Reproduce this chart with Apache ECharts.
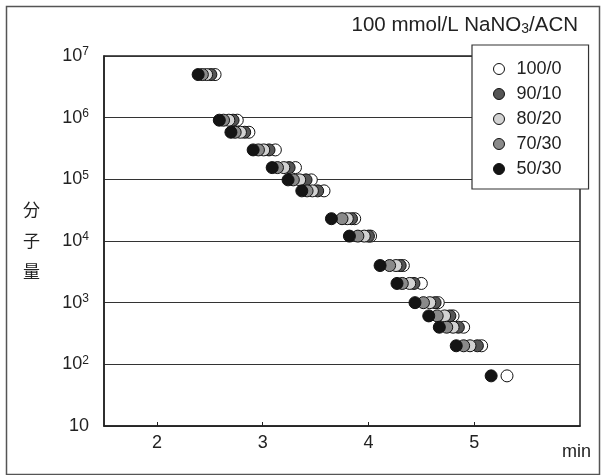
<!DOCTYPE html>
<html>
<head>
<meta charset="utf-8">
<script src="https://cdn.jsdelivr.net/npm/echarts@6/dist/echarts.min.js"></script>
<style>
html,body{margin:0;padding:0;background:#fff;}
#c{width:602px;height:475px;}
</style>
</head>
<body>
<div id="c"></div>
<script>
// Molecular weight of each standard (row)
const molWeights = [5.0e6, 9.1e5, 5.8e5, 3.0e5, 1.55e5, 9.8e4, 6.5e4, 2.3e4, 1.2e4, 4.0e3, 2.05e3, 1.0e3, 6.1e2, 4.0e2, 2.0e2, 65];
// Elution times (min) per eluent composition
const t_100_0 = [2.55, 2.76, 2.87, 3.12, 3.31, 3.46, 3.58, 3.87, 4.02, 4.33, 4.50, 4.66, 4.80, 4.90, 5.07, 5.31];
const t_90_10 = [2.51, 2.72, 2.83, 3.06, 3.25, 3.41, 3.52, 3.84, 4.00, 4.30, 4.43, 4.63, 4.77, 4.85, 5.03, null];
const t_80_20 = [2.47, 2.68, 2.79, 3.01, 3.20, 3.35, 3.47, 3.80, 3.96, 4.26, 4.39, 4.58, 4.72, 4.80, 4.96, null];
const t_70_30 = [2.43, 2.63, 2.74, 2.96, 3.14, 3.29, 3.42, 3.75, 3.90, 4.20, 4.32, 4.52, 4.65, 4.74, 4.90, null];
const t_50_30 = [2.39, 2.59, 2.70, 2.91, 3.09, 3.24, 3.37, 3.65, 3.82, 4.11, 4.27, 4.44, 4.57, 4.67, 4.83, 5.16];
const seriesNames = ['100/0', '90/10', '80/20', '70/30', '50/30'];
const xTicks = [2, 3, 4, 5];

const seriesTimes = [t_100_0, t_90_10, t_80_20, t_70_30, t_50_30];
const fills = ['#ffffff', '#555555', '#d2d2d2', '#8a8a8a', '#141414'];
const FONT = 'Liberation Sans, Arial, Helvetica, sans-serif';

function pairs(times) {
  const out = [];
  times.forEach((t, i) => { if (t !== null) out.push([t, molWeights[i]]); });
  return out;
}

const chart = echarts.init(document.getElementById('c'), null, {renderer: 'canvas'});
chart.setOption({
  animation: false,
  backgroundColor: '#fff',
  textStyle: {fontFamily: FONT},
  title: {
    text: '{n|100 mmol/L NaNO}{s|3}{n|/ACN}',
    right: 19, top: 10,
    textStyle: {
      fontWeight: 'normal',
      rich: {
        n: {fontFamily: FONT, fontSize: 20.5, fontWeight: 'normal', color: '#222'},
        s: {fontFamily: FONT, fontSize: 14, fontWeight: 'normal', color: '#222', verticalAlign: 'bottom', padding: [6, 0, 0, 0]}
      }
    }
  },
  grid: {left: 104, right: 22, top: 56, bottom: 49, show: true, borderColor: '#222', borderWidth: 1.5, backgroundColor: 'transparent'},
  legend: {
    orient: 'vertical',
    left: 472, top: 45,
    padding: [15, 27, 11, 21],
    itemWidth: 25, itemHeight: 11, itemGap: 7,
    backgroundColor: '#fff',
    borderColor: '#333', borderWidth: 1.2, borderRadius: 0,
    z: 10,
    data: seriesNames,
    itemStyle: {borderWidth: 1, borderColor: '#111'},
    textStyle: {fontFamily: FONT, fontSize: 18, color: '#222', lineHeight: 17},
    icon: 'circle'
  },
  xAxis: {
    type: 'value', min: 1.5, max: 6,
    axisLine: {show: true, onZero: false, lineStyle: {color: '#222', width: 1.5}},
    axisTick: {show: true, inside: true, length: 4, customValues: xTicks, lineStyle: {color: '#222'}},
    axisLabel: {customValues: xTicks, fontFamily: FONT, fontSize: 18, color: '#222', margin: 8},
    splitLine: {show: false}
  },
  yAxis: {
    type: 'log', logBase: 10, min: 10, max: 1e7,
    name: '分\n子\n量', nameLocation: 'middle', nameRotate: 0, nameGap: 64,
    nameTextStyle: {fontFamily: 'Noto Sans CJK JP', fontSize: 17, color: '#222', lineHeight: 31},
    axisLine: {show: true, lineStyle: {color: '#222', width: 1.5}},
    axisTick: {show: false},
    axisLabel: {
      margin: 15, color: '#222',
      formatter: function (v) {
        const e = Math.round(Math.log10(v));
        if (e === 1) return '{b|10}';
        return '{b|10}{p|' + e + '}';
      },
      rich: {
        b: {fontFamily: FONT, fontSize: 18, color: '#222'},
        p: {fontFamily: FONT, fontSize: 12, color: '#222', verticalAlign: 'top', padding: [0, 0, 8, 0]}
      }
    },
    splitLine: {show: true, lineStyle: {color: '#333', width: 1.2}}
  },
  graphic: [
    {type: 'rect', left: 4, top: 4, shape: {width: 593, height: 468}, style: {fill: 'none', stroke: '#555', lineWidth: 1.5}, silent: true, z: -1},
    {type: 'text', left: 562, top: 443, style: {text: 'min', font: '18px ' + FONT, fill: '#222'}}
  ],
  series: seriesNames.map((name, i) => ({
    name: name,
    type: 'scatter',
    symbol: 'circle',
    symbolSize: 12,
    itemStyle: {color: fills[i], borderColor: '#111', borderWidth: 1, opacity: 1},
    data: pairs(seriesTimes[i]),
    z: 2 + i
  }))
});
</script>
</body>
</html>
